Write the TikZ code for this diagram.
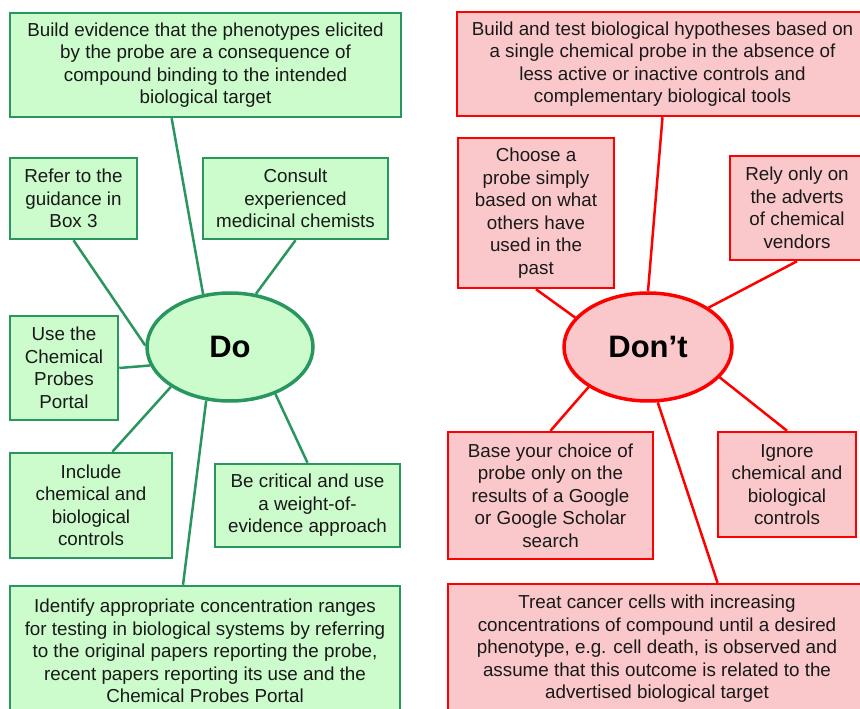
\documentclass[tikz,border=0pt]{standalone}
\usepackage{fontspec}
\setmainfont{Liberation Sans}
\usetikzlibrary{shapes.geometric,calc}
\definecolor{gfill}{RGB}{204,252,204}
\definecolor{gline}{RGB}{41,150,96}
\definecolor{rfill}{RGB}{250,200,202}
\definecolor{rline}{RGB}{255,0,0}
\definecolor{txt}{RGB}{25,25,25}
\begin{document}
\begin{tikzpicture}[x=1pt,y=-1pt,
  box/.style={draw, line width=2.5pt, inner sep=2pt, align=center,
    font=\fontsize{18.8}{22.5}\selectfont, text=txt},
  gbox/.style={box, draw=gline, fill=gfill},
  rbox/.style={box, draw=rline, fill=rfill},
  hub/.style={ellipse, line width=3.5pt, inner sep=0pt,
    font=\fontsize{31}{36}\selectfont\bfseries, text=black},
  glink/.style={draw=gline, line width=2.5pt},
  rlink/.style={draw=rline, line width=2.5pt}]
\useasboundingbox (0,0) rectangle (860,709);
\fill[white] (0,0) rectangle (860,709);

% Do side
\node[hub, draw=gline, fill=gfill, minimum width=166pt, minimum height=108pt] (do) at (230,347) {Do};
\node[gbox, minimum width=391pt, minimum height=104pt] (g1) at (205.5,65)
  {Build evidence that the phenotypes elicited\\by the probe are a consequence of\\compound binding to the intended\\biological target};
\node[gbox, minimum width=127pt, minimum height=81pt] (g2) at (73.5,198.5)
  {Refer to the\\guidance in\\Box 3};
\node[gbox, minimum width=185pt, minimum height=81pt] (g3) at (295.5,198.5)
  {Consult\\experienced\\medicinal chemists};
\node[gbox, minimum width=108pt, minimum height=104pt] (g4) at (64,368)
  {Use the\\Chemical\\Probes\\Portal};
\node[gbox, minimum width=162pt, minimum height=105pt] (g5) at (91,505.5)
  {Include\\chemical and\\biological\\controls};
\node[gbox, minimum width=185pt, minimum height=83pt] (g6) at (307.5,505.5)
  {Be critical and use\\a weight-of-\\evidence approach};
\node[gbox, minimum width=390pt, minimum height=130pt] (g7) at (205,651)
  {Identify appropriate concentration ranges\\for testing in biological systems by referring\\to the original papers reporting the probe,\\recent papers reporting its use and the\\Chemical Probes Portal};

\draw[glink] ($(g1.south west)!0.414!(g1.south east)$) -- (do.117);
\draw[glink] (g2.south) -- (do.179);
\draw[glink] (g3.south) -- (do.64);
\draw[glink] (g4.east) -- (do.193);
\draw[glink] ($(g5.north west)!0.63!(g5.north east)$) -- (do.214);
\draw[glink] (g6.north) -- (do.314);
\draw[glink] ($(g7.north west)!0.444!(g7.north east)$) -- (do.246);

% Don't side
\node[hub, draw=rline, fill=rfill, minimum width=168pt, minimum height=108pt] (dont) at (648,347) {Don’t};
\node[rbox, minimum width=411pt, minimum height=104pt] (r1) at (662.5,64)
  {Build and test biological hypotheses based on\\a single chemical probe in the absence of\\less active or inactive controls and\\complementary biological tools};
\node[rbox, minimum width=156pt, minimum height=150pt] (r2) at (536,213)
  {Choose a\\probe simply\\based on what\\others have\\used in the\\past};
\node[rbox, minimum width=134pt, minimum height=104pt] (r3) at (797,208)
  {Rely only on\\the adverts\\of chemical\\vendors};
\node[rbox, minimum width=205pt, minimum height=127pt] (r4) at (550.5,495.5)
  {Base your choice of\\probe only on the\\results of a Google\\or Google Scholar\\search};
\node[rbox, minimum width=138pt, minimum height=105pt] (r5) at (787,484.5)
  {Ignore\\chemical and\\biological\\controls};
\node[rbox, minimum width=418pt, minimum height=130pt] (r6) at (657,649)
  {Treat cancer cells with increasing\\concentrations of compound until a desired\\phenotype, e.g. cell death, is observed and\\assume that this outcome is related to the\\advertised biological target};

\draw[rlink] (r1.south) -- (dont.90);
\draw[rlink] (r2.south) -- (dont.158);
\draw[rlink] (r3.south) -- (dont.33);
\draw[rlink] (r4.north) -- (dont.214);
\draw[rlink] (r5.north) -- (dont.337);
\draw[rlink] ($(r6.north west)!0.644!(r6.north east)$) -- (dont.280);
\end{tikzpicture}
\end{document}
